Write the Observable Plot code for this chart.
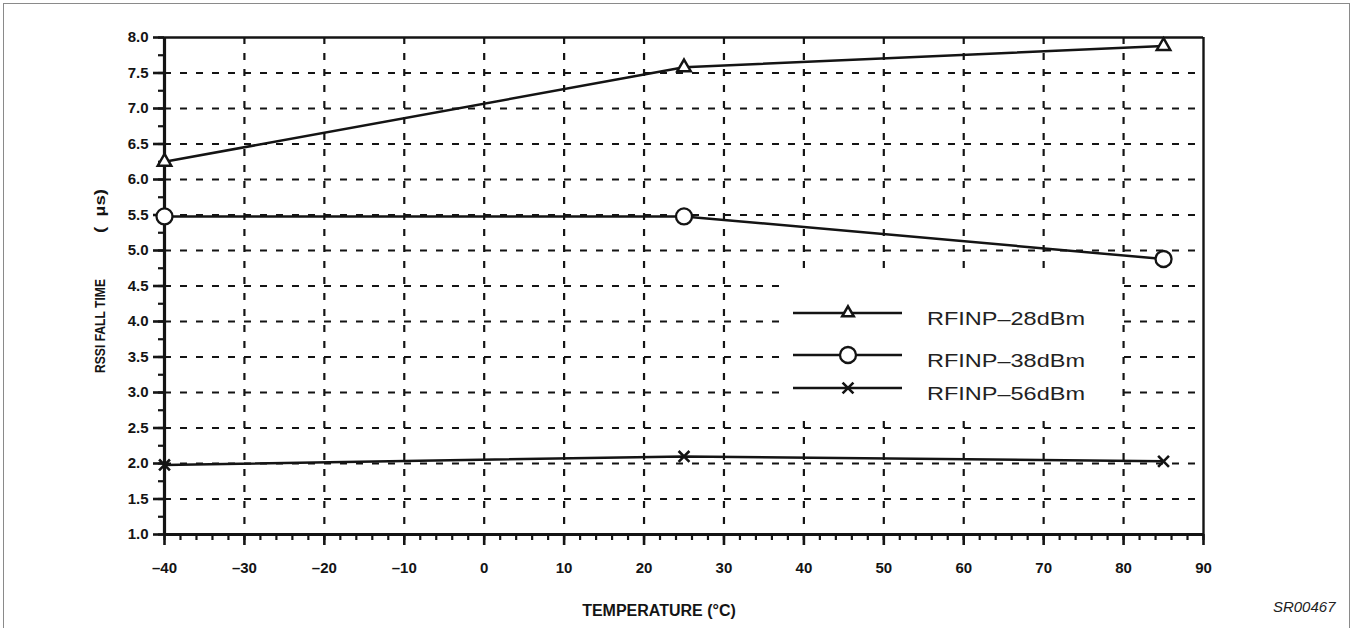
<!DOCTYPE html>
<html>
<head>
<meta charset="utf-8">
<script src="https://cdn.jsdelivr.net/npm/d3@7"></script>
<script src="https://cdn.jsdelivr.net/npm/@observablehq/plot@0.6"></script>
<style>
  html, body { margin: 0; padding: 0; background: #fff; }
  #wrap { position: relative; width: 1354px; height: 628px; overflow: hidden; font-family: "Liberation Sans", Arial, Helvetica, sans-serif; }
  #border { position: absolute; left: 3px; top: 3px; width: 1347px; height: 700px; border: 1.5px solid #8a8a8a; box-sizing: border-box; }
  #legend { position: absolute; left: 783px; top: 276px; width: 337px; height: 143px; background: #fff; }
</style>
</head>
<body>
<div id="wrap"><div id="border"></div></div>
<script>
// ---- data ----
const temps = [-40, 25, 85];
const rfinp28 = [6.25, 7.58, 7.88];
const rfinp38 = [5.48, 5.48, 4.88];
const rfinp56 = [1.98, 2.10, 2.03];
const seriesNames = ["RFINP\u201328dBm", "RFINP\u201338dBm", "RFINP\u201356dBm"];
const seriesSymbols = ["triangle", "circle", "times"];
const xTicks = [-40, -30, -20, -10, 0, 10, 20, 30, 40, 50, 60, 70, 80, 90];
const yTicks = [1.0, 1.5, 2.0, 2.5, 3.0, 3.5, 4.0, 4.5, 5.0, 5.5, 6.0, 6.5, 7.0, 7.5, 8.0];
const xTitle = "TEMPERATURE (\u00b0C)";
const yTitleMain = "RSSI FALL TIME";
const yTitleUnit = "(\u00a0\u00a0\u00b5s)";
const figId = "SR00467";

const seriesValues = [rfinp28, rfinp38, rfinp56];
const table = seriesValues.map((vals, i) => temps.map((t, j) => ({series: seriesNames[i], symbol: seriesSymbols[i], temp: t, value: vals[j]})));

const xMinor = d3.range(-40, 90.001, 2);
const yMinor = d3.range(1, 8.001, 0.25);
const fmtX = d => d < 0 ? "\u2013" + Math.abs(d) : String(d);
const ink = "#141414";
const font = "Liberation Sans, Arial, Helvetica, sans-serif";

const dotStyle = {
  triangle: {r: 5, fill: "white", stroke: ink, strokeWidth: 2.5},
  circle: {r: 8, fill: "white", stroke: ink, strokeWidth: 2.3},
  times: {r: 5, fill: "none", stroke: ink, strokeWidth: 2.6}
};

const marks = [
  Plot.gridX(xTicks.filter(d => d > -40 && d < 90), {stroke: ink, strokeOpacity: 1, strokeWidth: 2.2, strokeDasharray: "7,9"}),
  Plot.gridY(yTicks.filter(d => d > 1 && d < 8), {stroke: ink, strokeOpacity: 1, strokeWidth: 2.2, strokeDasharray: "7,9"}),
  Plot.axisX(xMinor, {tickSize: 6, tickFormat: () => "", stroke: ink, strokeWidth: 2.2, label: null}),
  Plot.axisY(yMinor, {tickSize: 6, tickFormat: () => "", stroke: ink, strokeWidth: 2.2, label: null}),
  Plot.axisX(xTicks, {tickSize: 11, tickPadding: 17, tickFormat: fmtX, stroke: ink, fill: ink, strokeWidth: 2.6, fontSize: 15, fontWeight: "bold", label: null}),
  Plot.axisY(yTicks, {tickSize: 11, tickPadding: 5, tickFormat: d => d.toFixed(1), stroke: ink, fill: ink, strokeWidth: 2.6, fontSize: 15, fontWeight: "bold", label: null}),
  Plot.ruleX([90], {stroke: ink, strokeWidth: 2.4}),
  Plot.ruleY([8], {stroke: ink, strokeWidth: 2.4}),
  Plot.ruleX([-40], {stroke: ink, strokeWidth: 3.2}),
  Plot.ruleY([1], {stroke: ink, strokeWidth: 3.2}),
  ...table.map(rows => Plot.line(rows, {x: "temp", y: "value", stroke: ink, strokeWidth: 2.5})),
  ...table.map(rows => Plot.dot(rows, {x: "temp", y: "value", symbol: () => rows[0].symbol, ...dotStyle[rows[0].symbol]})),
  Plot.text([yTitleMain], {className: "ytitle-main", frameAnchor: "left", rotate: -90, textAnchor: "start", lineAnchor: "bottom", dx: -60, dy: 87, fontSize: 15, fontWeight: "bold", fill: ink}),
  Plot.text([yTitleUnit], {className: "ytitle-unit", frameAnchor: "left", rotate: -90, textAnchor: "start", lineAnchor: "bottom", dx: -60, dy: -53, fontSize: 15, fontWeight: "bold", fill: ink}),
  Plot.text([xTitle], {frameAnchor: "bottom", textAnchor: "middle", lineAnchor: "bottom", dx: -25, dy: 81, fontSize: 16, fontWeight: "bold", fill: ink}),
  Plot.text([figId], {frameAnchor: "bottom-right", textAnchor: "end", lineAnchor: "bottom", dx: 132, dy: 77, fontSize: 15, fontStyle: "italic", fill: "#222"})
];

const chart = Plot.plot({
  width: 1354,
  height: 628,
  marginLeft: 164,
  marginTop: 37,
  marginRight: 151,
  marginBottom: 94,
  style: {background: "transparent", fontFamily: font, color: ink, overflow: "visible"},
  x: {domain: [-40, 90], label: null},
  y: {domain: [1, 8], label: null},
  symbol: {domain: seriesSymbols, range: seriesSymbols},
  marks
});
chart.style.position = "absolute";
chart.style.left = "0px";
chart.style.top = "0px";
document.getElementById("wrap").appendChild(chart);
// condensed look of the rotated axis title
d3.select(chart).selectAll(".ytitle-main text").attr("textLength", 94).attr("lengthAdjust", "spacingAndGlyphs");
d3.select(chart).selectAll(".ytitle-unit text").attr("textLength", 44).attr("lengthAdjust", "spacingAndGlyphs");

// ---- legend (inside the plot area, white background) ----
const legend = document.createElement("div");
legend.id = "legend";
document.getElementById("wrap").appendChild(legend);
const lsvg = d3.select(legend).append("svg").attr("width", 337).attr("height", 143);
const rowY = [37, 79, 112];
const symType = {triangle: d3.symbolTriangle, circle: d3.symbolCircle, times: d3.symbolTimes};
const legSize = {triangle: 4.3, circle: 8, times: 5};
seriesNames.forEach((name, i) => {
  const g = lsvg.append("g").attr("transform", `translate(0,${rowY[i]})`);
  g.append("line").attr("x1", 10).attr("x2", 119).attr("y1", 0).attr("y2", 0).attr("stroke", ink).attr("stroke-width", 2.5);
  const s = seriesSymbols[i];
  const st = dotStyle[s];
  g.append("path")
    .attr("transform", "translate(65,0)")
    .attr("d", d3.symbol(symType[s], Math.PI * legSize[s] * legSize[s])())
    .attr("fill", st.fill).attr("stroke", ink).attr("stroke-width", st.strokeWidth);
  g.append("text")
    .attr("x", 144).attr("y", 12)
    .attr("font-family", font).attr("font-size", 19).attr("fill", "#222")
    .attr("textLength", 158).attr("lengthAdjust", "spacingAndGlyphs")
    .text(name);
});
</script>
</body>
</html>
